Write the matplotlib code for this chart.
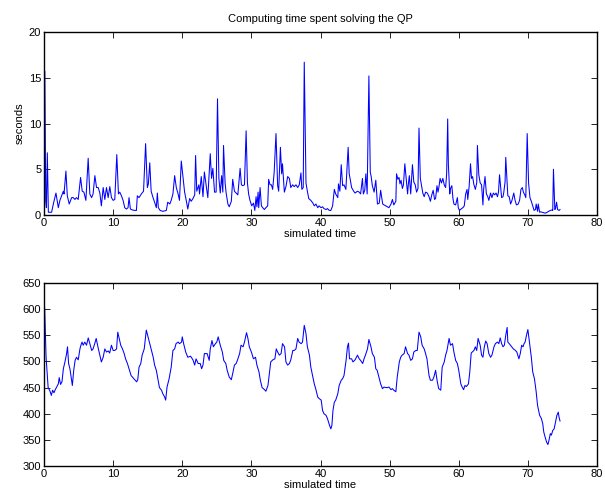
import matplotlib
matplotlib.use("Agg")
import matplotlib.pyplot as plt

# ---- data ----
qp_samples = [
    (0.0, 1.2), (0.12, 15.7), (0.25, 1.5), (0.35, 0.8), (0.48, 6.8), (0.63, 0.3), (1.1, 0.3), (1.35, 1.2),
    (1.73, 2.4), (2.07, 0.8), (2.3, 1.6), (2.55, 2.1), (2.8, 2.6), (2.9, 2.3), (3.17, 4.8), (3.37, 2.1),
    (3.65, 1.2), (4.0, 1.9), (4.23, 1.9), (4.47, 1.7), (4.7, 1.9), (4.95, 1.7), (5.29, 4.1), (5.53, 2.6),
    (5.77, 2.5), (6.06, 1.6), (6.39, 6.2), (6.63, 2.3), (6.88, 1.9), (7.1, 2.3), (7.36, 4.3), (7.6, 3.0),
    (7.84, 3.0), (8.08, 2.4), (8.3, 1.0), (8.56, 3.0), (8.8, 1.7), (9.04, 3.0), (9.28, 1.9), (9.52, 3.1),
    (9.76, 1.9), (10.0, 1.6), (10.24, 1.7), (10.53, 6.6), (10.77, 2.3), (10.96, 2.5), (11.2, 2.1), (11.44, 1.6),
    (11.68, 0.8), (11.92, 0.65), (12.16, 0.8), (12.3, 1.9), (12.5, 0.65), (12.8, 0.55), (13.1, 0.5), (13.37, 0.5),
    (13.5, 2.1), (13.75, 1.9), (14.08, 2.3), (14.4, 2.6), (14.7, 7.8), (14.95, 3.0), (15.1, 3.4), (15.3, 5.7),
    (15.5, 2.6), (15.77, 1.9), (16.0, 1.4), (16.25, 0.8), (16.4, 2.4), (16.54, 0.8), (16.8, 0.5), (17.2, 0.4),
    (17.7, 0.5), (17.9, 1.4), (18.2, 1.2), (18.4, 1.6), (18.65, 2.3), (18.9, 4.3), (19.14, 3.0), (19.4, 2.3),
    (19.6, 1.6), (19.86, 5.9), (20.34, 2.5), (20.6, 1.5), (20.8, 0.65), (21.07, 1.8), (21.3, 1.5), (21.55, 1.8),
    (21.8, 2.2), (21.93, 6.5), (22.1, 2.6), (22.4, 3.3), (22.5, 2.3), (22.75, 4.2), (23.0, 2.0), (23.2, 4.7),
    (23.5, 3.0), (23.7, 1.9), (24.05, 6.7), (24.24, 4.0), (24.43, 5.1), (24.67, 2.5), (24.9, 2.5), (25.1, 12.7),
    (25.3, 4.0), (25.5, 2.4), (25.7, 4.3), (25.87, 2.5), (25.97, 7.6), (26.2, 3.5), (26.35, 2.4), (26.6, 1.2),
    (26.8, 0.9), (27.1, 1.5), (27.3, 3.9), (27.55, 2.6), (27.8, 2.4), (28.04, 2.2), (28.37, 5.1), (28.56, 3.3),
    (28.76, 3.2), (29.0, 3.3), (29.24, 9.2), (29.43, 3.5), (29.6, 2.3), (29.8, 1.6), (30.05, 1.0), (30.3, 1.3),
    (30.5, 0.5), (30.68, 2.0), (30.8, 0.9), (30.97, 2.5), (31.06, 0.8), (31.26, 3.0), (31.45, 1.0), (31.64, 0.8),
    (31.88, 0.6), (32.1, 0.8), (32.36, 1.0), (32.5, 3.9), (32.7, 3.3), (32.9, 3.3), (33.08, 2.8), (33.3, 4.7),
    (33.56, 8.9), (33.8, 3.2), (33.95, 2.6), (34.2, 7.4), (34.38, 4.5), (34.5, 5.6), (34.77, 2.5), (35.0, 3.1),
    (35.25, 4.2), (35.5, 4.0), (35.7, 3.0), (35.97, 3.3), (36.2, 3.1), (36.45, 3.3), (36.7, 3.0), (36.93, 3.3),
    (37.17, 4.6), (37.3, 2.8), (37.5, 3.0), (37.65, 16.7), (37.9, 3.5), (38.1, 2.6), (38.3, 1.8), (38.6, 1.6),
    (38.9, 1.3), (39.1, 1.0), (39.34, 1.2), (39.6, 0.8), (39.8, 1.0), (40.07, 0.8), (40.3, 0.9), (40.5, 0.7),
    (40.8, 0.6), (41.0, 0.7), (41.27, 0.5), (41.5, 0.5), (41.75, 1.0), (42.0, 2.8), (42.2, 2.3), (42.5, 1.9),
    (42.6, 3.4), (42.8, 2.6), (43.0, 5.5), (43.2, 3.2), (43.4, 3.3), (43.67, 2.8), (44.0, 7.4), (44.15, 4.5),
    (44.3, 3.9), (44.5, 3.0), (44.8, 2.6), (45.0, 2.4), (45.35, 2.6), (45.6, 2.5), (45.8, 2.3), (46.07, 4.0),
    (46.2, 2.3), (46.4, 2.7), (46.56, 4.5), (46.75, 2.3), (47.0, 15.2), (47.2, 4.7), (47.33, 4.2), (47.5, 3.2),
    (47.76, 2.5), (48.0, 3.8), (48.24, 1.2), (48.5, 1.3), (48.7, 2.7), (49.0, 1.2), (49.2, 1.1), (49.44, 1.0),
    (49.7, 0.9), (49.9, 0.8), (50.2, 1.2), (50.4, 1.7), (50.6, 1.1), (50.9, 1.5), (51.0, 4.5), (51.2, 3.9),
    (51.36, 4.1), (51.5, 3.4), (51.65, 3.8), (51.85, 2.9), (52.0, 3.3), (52.2, 5.6), (52.4, 4.0), (52.6, 2.3),
    (52.7, 3.3), (52.85, 4.3), (53.05, 2.3), (53.3, 5.5), (53.5, 3.6), (53.7, 3.3), (53.9, 2.5), (54.1, 2.9),
    (54.25, 9.5), (54.44, 4.0), (54.6, 3.3), (54.8, 2.4), (55.0, 2.0), (55.2, 2.5), (55.45, 2.4), (55.7, 2.0),
    (55.9, 1.5), (56.1, 2.2), (56.3, 2.7), (56.5, 1.7), (56.65, 1.8), (56.85, 3.2), (57.0, 2.5), (57.14, 3.1),
    (57.3, 4.0), (57.5, 3.5), (57.7, 4.0), (57.9, 3.3), (58.1, 3.0), (58.25, 4.5), (58.4, 10.5), (58.5, 5.5),
    (58.7, 2.3), (58.8, 2.9), (59.0, 3.2), (59.16, 1.8), (59.3, 1.2), (59.55, 1.1), (59.8, 1.9), (59.93, 0.8),
    (60.1, 0.5), (60.4, 0.7), (60.6, 0.8), (60.8, 1.0), (61.0, 2.3), (61.2, 2.8), (61.3, 1.7), (61.5, 3.1),
    (61.7, 5.6), (61.85, 4.0), (62.0, 4.2), (62.2, 3.3), (62.4, 2.8), (62.6, 3.5), (62.7, 7.6), (62.9, 4.4),
    (63.1, 3.5), (63.3, 3.3), (63.5, 1.1), (63.6, 2.8), (63.8, 4.2), (64.0, 2.3), (64.2, 2.0), (64.35, 1.6),
    (64.6, 2.4), (64.8, 1.9), (65.0, 2.4), (65.2, 2.2), (65.4, 2.4), (65.6, 2.0), (65.75, 2.5), (65.9, 4.4),
    (66.04, 3.2), (66.2, 1.9), (66.4, 2.0), (66.5, 2.4), (66.7, 3.6), (66.8, 6.3), (67.0, 3.5), (67.1, 2.1),
    (67.3, 2.0), (67.5, 1.2), (67.7, 1.6), (67.96, 2.4), (68.15, 1.6), (68.35, 1.1), (68.6, 1.2), (68.8, 1.6),
    (69.0, 2.8), (69.2, 3.0), (69.35, 2.5), (69.55, 2.2), (69.7, 1.9), (69.9, 8.9), (70.1, 3.5), (70.3, 1.9),
    (70.5, 1.5), (70.7, 1.0), (70.9, 0.5), (71.1, 0.6), (71.2, 1.2), (71.4, 0.4), (71.5, 1.2), (71.7, 0.3),
    (71.85, 0.35), (72.05, 0.3), (72.3, 0.25), (72.5, 0.2), (72.8, 0.3), (73.0, 0.4), (73.25, 0.5), (73.5, 0.55),
    (73.6, 0.5), (73.7, 5.0), (73.9, 0.6), (74.0, 0.7), (74.15, 1.4), (74.3, 0.6), (74.5, 0.5), (74.65, 0.6),
]

second_samples = [
    (0.0, 617), (0.1, 600), (0.3, 508), (0.6, 450), (0.87, 443), (1.06, 435), (1.25, 445), (1.44, 440),
    (1.63, 446), (1.83, 451), (2.07, 457), (2.2, 469), (2.4, 456), (2.6, 461), (2.8, 486), (3.03, 499),
    (3.27, 515), (3.4, 528), (3.56, 496), (3.75, 486), (4.1, 454), (4.3, 483), (4.5, 502), (4.7, 508),
    (4.95, 503), (5.2, 524), (5.34, 531), (5.5, 537), (5.67, 531), (5.9, 537), (6.15, 531), (6.4, 545),
    (6.63, 534), (6.9, 521), (7.1, 524), (7.36, 535), (7.55, 544), (7.8, 528), (8.08, 512), (8.3, 499),
    (8.56, 508), (8.8, 524), (9.04, 518), (9.3, 520), (9.5, 516), (9.76, 531), (10.0, 521), (10.24, 521),
    (10.5, 524), (10.67, 556), (10.87, 544), (11.1, 531), (11.35, 524), (11.6, 515), (11.8, 505), (12.07, 496),
    (12.3, 486), (12.6, 473), (13.0, 467), (13.4, 461), (13.56, 465), (13.75, 489), (14.0, 496), (14.2, 512),
    (14.5, 524), (14.8, 560), (15.05, 547), (15.3, 534), (15.5, 524), (15.8, 508), (16.0, 493), (16.25, 483),
    (16.5, 464), (16.7, 450), (17.0, 445), (17.2, 438), (17.45, 432), (17.6, 426), (17.8, 451), (18.1, 467),
    (18.4, 489), (18.65, 521), (18.9, 524), (19.1, 534), (19.4, 537), (19.6, 534), (19.9, 537), (20.0, 547),
    (20.2, 534), (20.5, 518), (20.8, 508), (21.2, 510), (21.55, 503), (21.8, 493), (22.0, 505), (22.3, 496),
    (22.6, 496), (22.8, 486), (23.0, 493), (23.2, 515), (23.6, 515), (23.9, 502), (24.05, 524), (24.3, 540),
    (24.5, 528), (24.8, 534), (25.0, 537), (25.2, 547), (25.5, 531), (25.8, 518), (26.0, 502), (26.3, 496),
    (26.5, 483), (26.8, 470), (27.1, 465), (27.3, 477), (27.55, 493), (27.8, 496), (28.0, 503), (28.3, 515),
    (28.5, 531), (28.8, 528), (29.0, 537), (29.3, 555), (29.5, 544), (29.7, 528), (30.0, 518), (30.3, 505),
    (30.6, 508), (30.8, 493), (31.1, 480), (31.3, 464), (31.55, 450), (31.9, 446), (32.1, 443), (32.4, 454),
    (32.6, 477), (32.8, 499), (33.1, 503), (33.4, 505), (33.6, 524), (33.8, 518), (34.05, 512), (34.3, 515),
    (34.5, 534), (34.8, 528), (35.0, 499), (35.25, 493), (35.5, 496), (35.7, 503), (36.0, 521), (36.2, 521),
    (36.45, 524), (36.7, 544), (36.9, 537), (37.2, 534), (37.4, 537), (37.65, 569), (37.9, 553), (38.1, 528),
    (38.4, 512), (38.6, 489), (38.9, 470), (39.1, 457), (39.3, 448), (39.6, 432), (39.8, 429), (40.1, 426),
    (40.3, 406), (40.5, 400), (40.8, 397), (41.0, 391), (41.3, 378), (41.5, 371), (41.65, 378), (41.8, 406),
    (42.0, 422), (42.2, 426), (42.5, 438), (42.7, 454), (43.0, 464), (43.2, 467), (43.4, 473), (43.7, 502),
    (43.9, 528), (44.05, 535), (44.2, 505), (44.5, 505), (44.7, 499), (45.0, 503), (45.35, 512), (45.6, 505),
    (45.8, 502), (46.1, 496), (46.3, 505), (46.5, 512), (46.8, 524), (47.0, 542), (47.3, 528), (47.5, 515),
    (47.8, 508), (48.0, 486), (48.2, 483), (48.5, 467), (48.7, 457), (48.96, 448), (49.2, 451), (49.4, 450),
    (49.7, 450), (49.9, 451), (50.2, 446), (50.4, 448), (50.6, 445), (50.9, 442), (51.1, 470), (51.4, 499),
    (51.6, 508), (51.8, 512), (52.1, 515), (52.3, 528), (52.6, 515), (52.8, 512), (53.05, 502), (53.3, 505),
    (53.5, 518), (53.8, 521), (54.0, 521), (54.25, 556), (54.5, 547), (54.7, 531), (55.0, 524), (55.2, 515),
    (55.4, 505), (55.7, 473), (55.9, 464), (56.2, 464), (56.4, 470), (56.65, 483), (56.9, 461), (57.1, 448),
    (57.4, 445), (57.6, 489), (57.9, 499), (58.1, 512), (58.3, 521), (58.6, 544), (58.8, 531), (59.1, 534),
    (59.3, 518), (59.55, 502), (59.8, 496), (60.0, 483), (60.3, 457), (60.5, 451), (60.7, 446), (60.9, 454),
    (61.1, 452), (61.4, 457), (61.6, 480), (61.8, 516), (61.95, 518), (62.2, 521), (62.4, 528), (62.6, 521),
    (62.8, 544), (63.1, 531), (63.3, 512), (63.5, 508), (63.7, 528), (63.9, 539), (64.1, 534), (64.35, 515),
    (64.6, 508), (64.8, 512), (65.1, 528), (65.3, 534), (65.6, 537), (65.8, 534), (66.0, 545), (66.2, 534),
    (66.4, 528), (66.6, 531), (66.8, 550), (67.0, 565), (67.1, 537), (67.3, 534), (67.6, 529), (67.9, 524),
    (68.2, 521), (68.4, 518), (68.7, 505), (68.9, 515), (69.1, 531), (69.3, 528), (69.45, 534), (69.6, 537),
    (69.8, 550), (70.0, 561), (70.2, 540), (70.5, 508), (70.7, 480), (70.95, 467), (71.2, 442), (71.4, 416),
    (71.7, 397), (71.95, 391), (72.15, 381), (72.3, 365), (72.5, 355), (72.7, 346), (72.9, 341), (73.05, 349),
    (73.25, 362), (73.4, 359), (73.6, 368), (73.8, 371), (74.0, 384), (74.2, 397), (74.4, 403), (74.5, 394),
    (74.65, 386),
]

x_ticks = [0, 10, 20, 30, 40, 50, 60, 70, 80]
top_yticks = [0, 5, 10, 15, 20]
bottom_yticks = [300, 350, 400, 450, 500, 550, 600, 650]

title_text = "Computing time spent solving the QP"
xlabel_text = "simulated time"
top_ylabel = "seconds"

qp_time = [p[0] for p in qp_samples]
qp_secs = [p[1] for p in qp_samples]
t2 = [p[0] for p in second_samples]
v2 = [p[1] for p in second_samples]

plt.rcParams['font.family'] = ['Liberation Sans', 'DejaVu Sans']
FS = 8

fig = plt.figure(figsize=(6.05, 4.97), dpi=100)
W, H = 605, 497

def add_ax(left, top, right, bottom):
    return fig.add_axes([left / W, 1 - bottom / H, (right - left) / W, (bottom - top) / H])

ax1 = add_ax(44, 32, 597, 215)
ax2 = add_ax(44, 283, 597, 466)

ax1.plot(qp_time, qp_secs, color='#0000ff', lw=0.75)
ax2.plot(t2, v2, color='#0000ff', lw=0.75)

for ax, yt in ((ax1, top_yticks), (ax2, bottom_yticks)):
    ax.set_xlim(0, 80)
    ax.set_ylim(yt[0], yt[-1])
    ax.set_xticks(x_ticks)
    ax.set_yticks(yt)
    ax.tick_params(direction='in', top=True, right=True, length=4, width=0.6,
                   labelsize=FS, pad=2)
    for s in ax.spines.values():
        s.set_linewidth(1.0)
    ax.set_xlabel(xlabel_text, fontsize=FS, labelpad=1)

ax1.set_ylabel(top_ylabel, fontsize=FS, labelpad=3)
ax1.set_title(title_text, fontsize=FS, pad=7)

fig.savefig("out.png", dpi=100)
